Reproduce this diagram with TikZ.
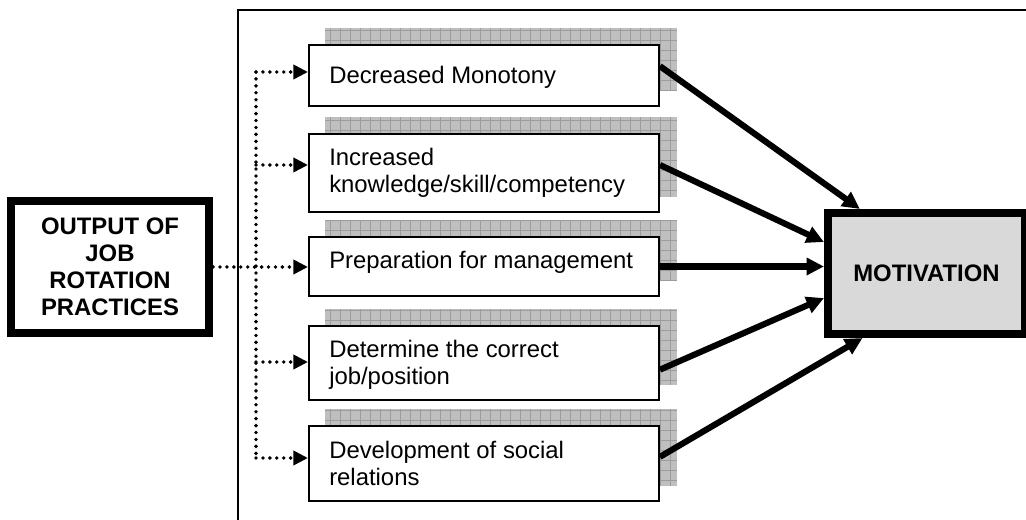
\documentclass[tikz,border=0pt]{standalone}
\usepackage{fontspec}
\setmainfont{Liberation Sans}
\usetikzlibrary{arrows.meta,backgrounds}
\tikzset{
  outerframe/.style={line width=1.7pt},
  smallbox/.style={draw, line width=1.5pt, fill=white, minimum width=262.5pt, inner sep=0pt},
  boxtext/.style={anchor=north west, inner sep=0pt, align=left, font=\fontsize{17.9}{20.25}\selectfont},
  bigbox/.style={draw, line width=5.8pt, inner sep=0pt, align=center, font=\bfseries\fontsize{17.9}{20.25}\selectfont},
  shadowfill/.style={fill=gray!50},
  gridline/.style={draw=gray!78, line width=0.5pt},
  conn/.style={line width=4.6pt, -{Triangle[length=13pt,width=12.5pt]}},
  feed/.style={line width=2.9pt, line cap=round, dash pattern=on 0pt off 5.2pt},
  feedarrow/.style={feed, -{Triangle[length=11pt,width=10.5pt]}}
}
\begin{document}
\begin{tikzpicture}[x=0.75pt,y=-0.75pt]
\clip (0,0) rectangle (1026,520);
\draw[outerframe] (238,10) rectangle (1040,530);
% outer boxes
\node[bigbox, fill=white, minimum width=148.8pt, minimum height=99.3pt] (lbox) at (110,267) {OUTPUT OF\\JOB\\ROTATION\\PRACTICES};
\node[bigbox, fill=gray!30, minimum width=148pt, minimum height=91pt] (mot) at (926.5,273.5) {MOTIVATION};
% middle boxes
\node[smallbox, minimum height=46pt] (b1) at (484,75.5) {};
\node[smallbox, minimum height=58.5pt] (b2) at (484,173) {};
\node[smallbox, minimum height=44.3pt] (b3) at (484,266.5) {};
\node[smallbox, minimum height=55.5pt] (b4) at (484,363) {};
\node[smallbox, minimum height=56.3pt] (b5) at (484,463.5) {};
\node[boxtext] (t1) at ([shift={(21,22)}]b1.north west) {Decreased Monotony};
\node[boxtext] (t2) at ([shift={(21,15)}]b2.north west) {Increased\\knowledge/skill/competency};
\node[boxtext] (t3) at ([shift={(21,15)}]b3.north west) {Preparation for management};
\node[boxtext] (t4) at ([shift={(21,15)}]b4.north west) {Determine the correct\\job/position};
\node[boxtext] (t5) at ([shift={(21,16)}]b5.north west) {Development of social\\relations};
% shadows
\begin{scope}[on background layer]
\fill[shadowfill] ([shift={(17,-16)}]b1.south west) rectangle ([shift={(17,-16)}]b1.north east);
\fill[shadowfill] ([shift={(17,-16)}]b2.south west) rectangle ([shift={(17,-16)}]b2.north east);
\fill[shadowfill] ([shift={(17,-16)}]b3.south west) rectangle ([shift={(17,-16)}]b3.north east);
\fill[shadowfill] ([shift={(17,-16)}]b4.south west) rectangle ([shift={(17,-16)}]b4.north east);
\fill[shadowfill] ([shift={(17,-16)}]b5.south west) rectangle ([shift={(17,-16)}]b5.north east);
\draw[gridline, step=7.5pt] ([shift={(17,-16)}]b1.south west) grid ([shift={(17,-16)}]b1.north east);
\draw[gridline, step=7.5pt] ([shift={(17,-16)}]b2.south west) grid ([shift={(17,-16)}]b2.north east);
\draw[gridline, step=7.5pt] ([shift={(17,-16)}]b3.south west) grid ([shift={(17,-16)}]b3.north east);
\draw[gridline, step=7.5pt] ([shift={(17,-16)}]b4.south west) grid ([shift={(17,-16)}]b4.north east);
\draw[gridline, step=7.5pt] ([shift={(17,-16)}]b5.south west) grid ([shift={(17,-16)}]b5.north east);
\end{scope}
% dotted feeds
\coordinate (j1) at (256,72);
\coordinate (j2) at (256,165);
\coordinate (j4) at (256,362);
\coordinate (j5) at (256,458);
\draw[feed] (j1) -- (j5);
\draw[feedarrow] (j1) -- (j1 -| b1.west);
\draw[feedarrow] (j2) -- (j2 -| b2.west);
\draw[feedarrow] (lbox.east) -- (lbox.east -| b3.west);
\draw[feedarrow] (j4) -- (j4 -| b4.west);
\draw[feedarrow] (j5) -- (j5 -| b5.west);
% thick arrows
\draw[conn] ([yshift=7pt]b1.east) -- ([xshift=-50pt]mot.north);
\draw[conn] ([yshift=6pt]b2.east) -- ([yshift=23.6pt]mot.west);
\draw[conn] (b3.east) -- (b3.east -| mot.west);
\draw[conn] ([yshift=-5pt]b4.east) -- ([yshift=-18.4pt]mot.west);
\draw[conn] ([yshift=5pt]b5.east) -- ([xshift=-48pt]mot.south);
\end{tikzpicture}
\end{document}
